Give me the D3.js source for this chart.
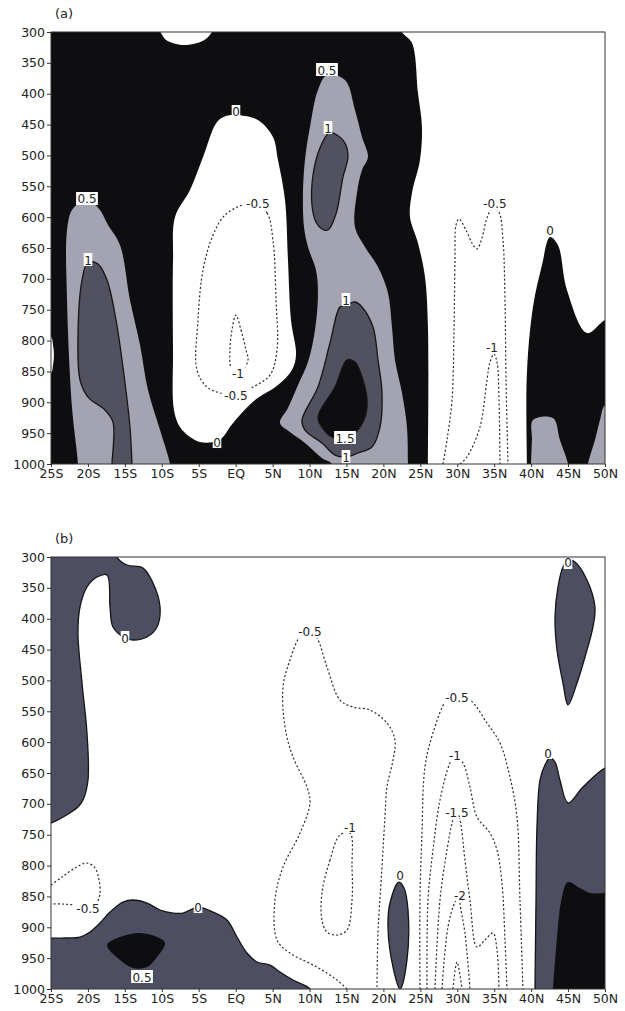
<!DOCTYPE html>
<html>
<head>
<meta charset="utf-8">
<script src="https://cdn.jsdelivr.net/npm/d3@7"></script>
<style>
  body { margin: 0; background: #fff; }
  svg { display: block; }
  text { font-family: "DejaVu Sans", sans-serif; fill: #222; }
</style>
</head>
<body>
<svg id="chart" width="625" height="1011"></svg>
<script>
// ---- axes ----
const lonTicks = [-25, -20, -15, -10, -5, 0, 5, 10, 15, 20, 25, 30, 35, 40, 45, 50];
const lonLabels = ["25S", "20S", "15S", "10S", "5S", "EQ", "5N", "10N", "15N", "20N", "25N", "30N", "35N", "40N", "45N", "50N"];
const presTicks = [300, 350, 400, 450, 500, 550, 600, 650, 700, 750, 800, 850, 900, 950, 1000];

// ---- panel (a): contour polygons as [lon, hPa] ----
// negative areas (value < 0), drawn white over the 0..0.5 shading
const aNegTopBump = [[-10.6,295],[-10.2,300],[-9.5,312],[-8.2,319],[-6.7,321],[-5.2,318],[-3.9,310],[-3.2,300],[-2.9,295]];
const aNegEquator = [[0.04,434.5],[3.0,442.6],[5.05,470.2],[5.73,507.4],[6.68,572.2],[7.08,669.5],[7.49,766.7],[8.17,823.4],
  [7.62,847.7],[5.73,872],[2.62,896.3],[0.58,920.6],[-0.77,940.1],[-1.85,957.9],[-3.07,964.4],[-4.83,964.4],[-6.18,956.3],
  [-7.54,940.1],[-8.35,912.6],[-8.48,815.3],[-8.48,669.5],[-8.21,599.8],[-6.18,556],[-4.42,502.6],[-2.53,445.8],[-1.31,436.1]];
const aNegEdge = [[-26,790],[-25,794],[-24.73,807],[-24.6,823],[-24.73,840],[-25,853],[-26,856]];
const aNegNorth = [[22.52,290],[22.52,300],[23.87,317.8],[24.68,398.9],[25.22,453.9],[24.95,507.4],[23.87,560.9],[23.6,599.8],
  [24.68,641.9],[25.63,697],[26.03,778],[26.03,1000],[26.03,1015],[39.43,1015],[39.43,1000],[39.43,852.6],[40.25,745.6],
  [41.47,677.6],[42.55,632.2],[43.63,645.2],[44.85,718.1],[47.56,787.8],[50,766.7],[52,760],[52,290]];
// 0.5 contour areas
const aPos05South = [[-21.4,1015],[-21.35,1000],[-22.16,907.7],[-22.83,734.3],[-22.83,620.9],[-22.16,588.4],[-21.07,577.1],
  [-19.45,577.1],[-18.37,588.4],[-17.28,612.8],[-15.66,645.2],[-14.31,734.3],[-12.95,807.2],[-11.87,880.1],[-10.24,945],
  [-8.89,1000],[-8.8,1015]];
const aPos05North = [[12.36,369.7],[14.8,377.8],[16.15,426.4],[17.1,470.2],[17.91,502.6],[17.1,523.6],[16.42,560.9],[16.15,616],
  [17.51,648.4],[19.27,680.8],[20.62,723],[21.16,778],[21.57,831.5],[22.52,885],[23.19,940.1],[23.33,1000],[23.4,1015],
  [13.0,1015],[13.04,1000],[11.68,990.3],[9.38,966],[7.35,948.2],[6.0,933.6],[7.08,909.3],[8.44,872],[9.79,834.8],[10.74,782.9],
  [11.14,722.9],[10.87,685.7],[9.79,648.4],[9.25,616],[9.11,560.9],[9.38,507.4],[10.06,453.9],[11.14,394]];
const aPos05EastA = [[39.95,1015],[39.98,1000],[40.11,961.2],[40.25,928.8],[42.96,925.5],[43.9,961.2],[44.99,1000],[45.05,1015]];
const aPos05EastB = [[47.6,1015],[47.69,1000],[48.64,961.2],[49.32,928.8],[50,904.4],[52,898],[52,1015]];
// 1.0 contour areas
const aPos10South = [[-19.99,672.7],[-20.8,701.9],[-21.35,799.1],[-21.07,864],[-19.99,891.5],[-17.69,912.6],[-16.61,932],
  [-16.74,1000],[-16.75,1015],[-14.0,1015],[-14.04,1000],[-14.31,940.1],[-15.12,855.8],[-16.2,766.7],[-17.42,701.9],[-18.64,676]];
const aPos10NorthUp = [[12.63,463.7],[11.41,488],[10.47,531.7],[10.33,580.3],[10.87,607.9],[11.68,619.2],[12.5,620.9],
  [13.58,594.9],[14.53,535],[15.2,502.6],[14.8,479.9],[13.72,466.9]];
const aPos10NorthLow = [[14.93,742.4],[14.12,745.6],[12.77,804],[11.14,875.3],[8.98,928.8],[9.38,945],[11.68,966],[13.45,985.5],
  [14.93,988.7],[16.56,982.2],[18.45,972.5],[19.54,940.1],[19.81,885],[19.27,831.5],[18.59,778],[17.1,745.6],[16.15,737.5]];
// 1.5 contour area
const aPos15North = [[15.07,831.5],[13.45,875.3],[11.14,923.9],[11.68,940.1],[13.04,956.3],[14.8,959.5],[16.15,949.8],
  [17.51,923.9],[17.78,896.3],[17.1,859.1],[16.15,834.8]];
// dashed negative contours
const aDash05Eq = [[2.35,577.1],[4.24,593.3],[5.05,637.1],[5.46,734.3],[5.6,815.3],[4.65,855.8],[2.35,875.3],[0.04,888.2],
  [-2.12,885],[-3.88,875.3],[-5.24,847.7],[-5.1,766.7],[-4.42,685.7],[-3.07,629],[-1.45,596.6],[0.58,582]];
const aDash10Eq = [[0.04,758.6],[0.72,782.9],[1.4,815.3],[1.67,831.5],[1.0,847.7],[0.31,852.6],[-0.63,842.9],[-0.77,815.3],[-0.5,782.9]];
const aDash05North = [[28.07,1000],[28.61,961.2],[29.29,896.3],[29.56,782.9],[29.69,669.5],[29.83,612.8],[30.23,603],[31.18,620.9],
  [31.99,641.9],[32.67,651.6],[33.35,633.8],[34.02,601.4],[34.84,583.6],[35.65,591.7],[36.19,637.1],[36.46,734.3],[36.6,864],[36.87,1000]];
const aDash10North = [[30.37,1000],[31.31,988.7],[33.07,940.1],[34.02,864],[34.43,834.8],[34.97,821.8],[35.38,834.8],[35.65,896.3],[35.78,1000]];
// contour labels [text, lon, hPa]
const aLabels = [["0.5",-20.13,570.6],["1",-19.99,669.5],["0",0.04,429.6],["-0.5",3.0,578.7],["-1",0.31,852.6],["-0.5",0.04,888.2],
  ["0",-2.53,964.4],["0.5",12.36,361.6],["1",12.5,455.6],["1",14.93,734.3],["1.5",14.8,957.9],["1",14.93,988.7],
  ["-0.5",35.1,578.7],["-1",34.7,812],["0",42.55,620.9]];

// ---- panel (b) ----
const bPosWest = [[-26,290],[-16.1,290],[-16.07,300],[-14.71,313],[-12.55,317.8],[-11.19,342.1],[-10.24,381],[-10.65,413.4],
  [-12.0,429.6],[-13.9,434.5],[-14.98,431.3],[-16.61,413.4],[-17.01,381],[-17.42,329.2],[-18.77,332.4],[-20.13,348.6],
  [-21.07,381],[-21.35,423.2],[-20.8,504.2],[-20.13,585.2],[-19.99,661.4],[-20.67,693.8],[-21.35,705.1],[-25,731.1],[-26,733]];
const bPosBottom = [[-26,917],[-25,917.4],[-22.83,917.4],[-21.07,915.8],[-19.72,907.7],[-18.37,893.1],[-17.01,875.3],[-15.25,859.1],
  [-13.9,855.8],[-12.0,860.7],[-10.24,872],[-8.48,876.9],[-7.13,876.9],[-5.1,867.2],[-3.07,875.3],[-1.18,888.2],[0.18,915.8],
  [1.53,941.7],[2.89,956.3],[4.65,961.2],[6.0,972.5],[7.76,985.5],[10.06,1000],[10.3,1015],[-26,1015]];
const bPos05Blob = [[-17.42,928.8],[-15.66,915.8],[-12.95,909.3],[-10.65,915.8],[-9.57,925.5],[-10.65,948.2],[-12.0,964.4],
  [-13.9,966],[-15.66,953.1]];
const bPosSliver = [[22.11,826.7],[22.79,836.4],[23.33,872],[23.19,953.1],[22.25,1000],[21.3,964.4],[20.62,899.6],[20.89,860.7]];
const bPosNorthTop = [[44.99,304.9],[45.94,308.1],[47.56,337.3],[48.64,381],[48.37,413.4],[47.29,462],[46.21,504.2],[44.99,539.8],
  [44.31,504.2],[43.5,450.7],[43.23,397.2],[43.63,348.6],[44.31,316.2]];
const bPosNorthLow = [[40.5,1015],[40.52,1000],[40.66,855.8],[40.79,737.5],[41.2,661.4],[41.87,637.1],[42.55,625.7],[43.23,632.2],
  [43.9,661.4],[44.99,698.6],[47.02,672.7],[50,641.9],[52,636],[52,1015]];
const bPos05North = [[42.9,1015],[42.96,1000],[43.36,936.9],[44.17,851],[44.99,826.7],[46.61,836.4],[47.97,844.5],[50,844.5],
  [52,844],[52,1015]];
const bDash05West = [[-25,831.5],[-23.51,818.6],[-21.75,804],[-20.13,795.9],[-19.04,804],[-18.5,823.4],[-18.37,844.5],
  [-18.77,859.1],[-19.99,866],[-21.75,863.9],[-23.51,862.3],[-25,862.3]];
const bDash05Mid = [[15.07,1000],[13.72,985.5],[11.01,964.4],[7.35,941.7],[5.59,920.6],[5.32,855.8],[6.41,802.4],[8.71,747.3],
  [10.06,698.6],[9.66,672.7],[7.76,624.1],[6.68,575.5],[6.41,510.7],[7.35,466.9],[8.71,429.6],[10.06,421.5],[11.01,431.3],
  [12.36,478.3],[14.12,531.7],[15.88,543.1],[18.18,547.9],[20.48,569],[21.57,596.6],[21.3,629],[20.48,672.7],[20.21,721.3],
  [19.81,802.4],[19.27,909.3],[19.13,1000]];
const bDash10Mid = [[14.12,750.5],[12.77,791],[11.68,844.5],[11.68,888.2],[12.36,907.7],[13.72,912.5],[15.07,904.4],[15.75,855.8],
  [15.75,802.4],[15.48,747.3]];
const bDash05East = [[24.95,1000],[24.95,855.8],[25.22,747.3],[25.63,640.3],[26.71,585.2],[28.61,531.7],[29.96,526.9],[31.72,531.7],
  [34.02,569],[35.78,601.4],[37.13,656.5],[38.08,721.3],[38.49,855.8],[38.89,1000]];
const bDash10East = [[25.9,1000],[26.04,855.8],[26.71,774.8],[27.66,693.8],[29.01,633.8],[29.69,620.9],[30.77,633.8],[31.72,672.7],
  [32.67,721.3],[34.43,747.3],[35.38,774.8],[36.05,828.3],[36.46,920.6],[36.73,1000]];
const bDash15East = [[26.98,1000],[27.66,855.8],[28.61,774.8],[29.42,726.2],[29.96,713.2],[30.37,726.2],[31.04,791],[31.72,855.8],
  [32.67,932],[33.75,920.6],[34.84,909.3],[35.38,936.9],[35.65,1000]];
const bDash20East = [[27.93,1000],[28.74,899.6],[29.69,859.1],[30.37,847.7],[30.37,860.7],[31.04,909.3],[31.72,1000]];
const bDash25East = [[29.42,1000],[29.96,956.3],[30.64,1000]];
const bLabels = [["0",-14.98,431.3],["-0.5",-19.99,868.8],["0",-5.1,867.2],["0.5",-12.68,980.6],["-0.5",10.06,421.5],
  ["-1",15.48,737.5],["0",22.25,815.3],["-0.5",29.96,526.9],["-1",29.69,620.9],["-1.5",29.96,713.2],["-2",30.37,847.7],
  ["0",42.28,617.6],["0",44.99,309.7]];

// ---- colours ----
const BLACK = "#0e0e10", WHITE = "#ffffff", LIGHT = "#a3a3b1", DARK = "#51515f", SLATE = "#4e4e62", LINE = "#151515";

const svg = d3.select("#chart");
const x = d3.scaleLinear().domain([-25, 50]).range([51, 605]);

function drawPanel(name, title, top, background, shades, dashed, labels) {
  const y = d3.scaleLinear().domain([300, 1000]).range([top, top + 432]);
  const g = svg.append("g").attr("class", "panel-" + name);

  svg.append("clipPath").attr("id", "clip-" + name).append("rect")
    .attr("x", x(-25)).attr("y", y(300))
    .attr("width", x(50) - x(-25)).attr("height", y(1000) - y(300));

  const plot = g.append("g").attr("clip-path", "url(#clip-" + name + ")");
  plot.append("rect")
    .attr("x", x(-25)).attr("y", y(300))
    .attr("width", x(50) - x(-25)).attr("height", y(1000) - y(300))
    .attr("fill", background);

  const closed = d3.line().x(d => x(d[0])).y(d => y(d[1])).curve(d3.curveCatmullRomClosed.alpha(0.5));
  const open = d3.line().x(d => x(d[0])).y(d => y(d[1])).curve(d3.curveCatmullRom.alpha(0.5));

  shades.forEach(s => {
    plot.append("path")
      .attr("d", closed(s.pts))
      .attr("fill", s.fill)
      .attr("stroke", s.line ? LINE : "none")
      .attr("stroke-width", 1.3)
      .attr("stroke-linejoin", "round");
  });

  dashed.forEach(s => {
    plot.append("path")
      .attr("d", (s.closed ? closed : open)(s.pts))
      .attr("fill", "none")
      .attr("stroke", "#2a2a2a")
      .attr("stroke-width", 1.2)
      .attr("stroke-dasharray", "2,2.2");
  });

  // contour labels with white boxes
  labels.forEach(l => {
    const lg = plot.append("g").attr("transform", "translate(" + x(l[1]) + "," + y(l[2]) + ")");
    const w = l[0].length * 6.6 + 2;
    lg.append("rect").attr("x", -w / 2).attr("y", -7).attr("width", w).attr("height", 13).attr("fill", WHITE);
    lg.append("text").attr("text-anchor", "middle").attr("y", 4.5)
      .attr("font-size", 12).attr("fill", "#222").text(l[0]);
  });

  // frame
  g.append("rect")
    .attr("x", x(-25)).attr("y", y(300))
    .attr("width", x(50) - x(-25)).attr("height", y(1000) - y(300))
    .attr("fill", "none").attr("stroke", "#333").attr("stroke-width", 1);

  const yAxis = g.append("g").attr("transform", "translate(" + x(-25) + ",0)")
    .call(d3.axisLeft(y).tickValues(presTicks).tickSize(4).tickPadding(2).tickFormat(d => String(d)));
  const xAxis = g.append("g").attr("transform", "translate(0," + y(1000) + ")")
    .call(d3.axisBottom(x).tickValues(lonTicks).tickSize(3).tickPadding(2)
      .tickFormat((d, i) => lonLabels[i]));
  [yAxis, xAxis].forEach(a => {
    a.attr("font-family", null).attr("font-size", null);
    a.select(".domain").remove();
    a.selectAll("line").attr("stroke", "#333");
    a.selectAll("text").attr("font-size", 12.5).attr("fill", "#222");
  });

  g.append("text").attr("x", 55).attr("y", top - 14).attr("font-size", 13).text(title);
}

drawPanel("a", "(a)", 32, BLACK, [
  { pts: aNegTopBump, fill: WHITE },
  { pts: aNegEquator, fill: WHITE },
  { pts: aNegEdge, fill: WHITE },
  { pts: aNegNorth, fill: WHITE },
  { pts: aPos05South, fill: LIGHT },
  { pts: aPos05North, fill: LIGHT },
  { pts: aPos05EastA, fill: LIGHT },
  { pts: aPos05EastB, fill: LIGHT },
  { pts: aPos10South, fill: DARK, line: true },
  { pts: aPos10NorthUp, fill: DARK, line: true },
  { pts: aPos10NorthLow, fill: DARK, line: true },
  { pts: aPos15North, fill: BLACK, line: true }
], [
  { pts: aDash05Eq, closed: true },
  { pts: aDash10Eq, closed: true },
  { pts: aDash05North },
  { pts: aDash10North }
], aLabels);

drawPanel("b", "(b)", 557, WHITE, [
  { pts: bPosWest, fill: SLATE, line: true },
  { pts: bPosBottom, fill: SLATE, line: true },
  { pts: bPosSliver, fill: SLATE, line: true },
  { pts: bPosNorthTop, fill: SLATE, line: true },
  { pts: bPosNorthLow, fill: SLATE, line: true },
  { pts: bPos05Blob, fill: BLACK },
  { pts: bPos05North, fill: BLACK }
], [
  { pts: bDash05West },
  { pts: bDash05Mid },
  { pts: bDash10Mid, closed: true },
  { pts: bDash05East },
  { pts: bDash10East },
  { pts: bDash15East },
  { pts: bDash20East },
  { pts: bDash25East }
], bLabels);
</script>
</body>
</html>
